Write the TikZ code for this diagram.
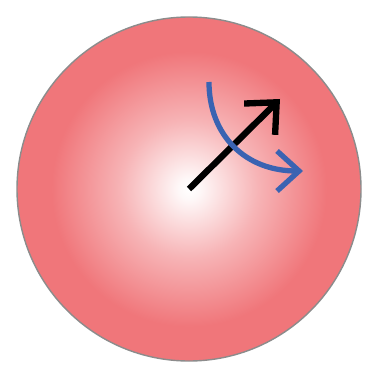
\documentclass[tikz,border=0pt]{standalone}
\usepackage{xcolor}
\usetikzlibrary{arrows.meta}
\definecolor{ballred}{RGB}{240,118,122}
\definecolor{spinblue}{RGB}{58,99,178}
\definecolor{rimgray}{RGB}{140,140,140}
\pgfdeclareradialshading{ballglow}{\pgfpoint{0bp}{0bp}}{%
  color(0bp)=(white);
  color(1.5bp)=(white!95!ballred);
  color(10bp)=(white!45!ballred);
  color(20bp)=(ballred);
  color(50bp)=(ballred)}

\begin{document}
\begin{tikzpicture}[
  x=0.01cm, y=-0.01cm,
  ball/.style={draw=rimgray,line width=0.4pt,shading=ballglow},
  vec/.style={-{Straight Barb[length=2.4mm,width=4.4mm]},line width=1.8pt,black},
  rot/.style={-{Straight Barb[length=2.2mm,width=4mm]},line width=1.5pt,draw=spinblue}
]
\useasboundingbox (0,0) rectangle (367,370);
% sphere
\coordinate (c) at (189,189);
\shade[ball] (c) circle[radius=172];
% axis arrow and rotation
\coordinate (tip) at (280,99);
\coordinate (rs) at (209,82);
\coordinate (re) at (303,171);
\draw[vec] (c) -- (tip);
\draw[rot] (rs) .. controls (209,135) and (245,171) .. (re);
\end{tikzpicture}
\end{document}
